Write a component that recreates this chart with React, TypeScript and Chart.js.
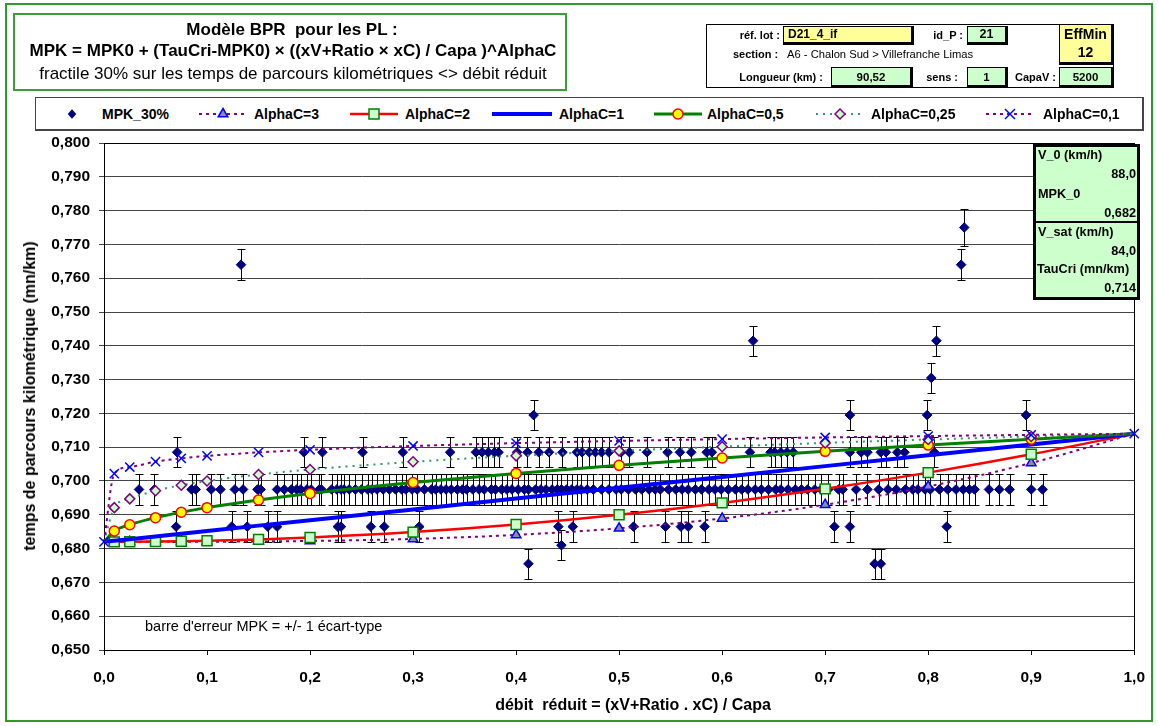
import React, { useEffect, useRef } from "react";
import { Chart, registerables } from "chart.js";

Chart.register(...registerables);

const FONT = '"Liberation Sans", Arial, Helvetica, sans-serif';

// Axis bounds
const X_MIN = 0;
const X_MAX = 1;
const X_STEP = 0.1;
const Y_MIN = 0.65;
const Y_MAX = 0.8;
const Y_STEP = 0.01;

// BPR model curves, evaluated at these reduced flows
const MODEL_X = [0, 0.01, 0.025, 0.05, 0.075, 0.1, 0.15, 0.2, 0.3, 0.4, 0.5, 0.6, 0.7, 0.8, 0.9, 1];
const ALPHA_3 = [0.682, 0.682, 0.682, 0.682, 0.68201, 0.68203, 0.68211, 0.68226, 0.68286, 0.68405, 0.686, 0.68891, 0.69298, 0.69838, 0.70533, 0.714];
const ALPHA_2 = [0.682, 0.682, 0.68202, 0.68208, 0.68218, 0.68232, 0.68272, 0.68328, 0.68488, 0.68712, 0.69, 0.69352, 0.69768, 0.70248, 0.70792, 0.714];
const ALPHA_1 = [0.682, 0.68232, 0.6828, 0.6836, 0.6844, 0.6852, 0.6868, 0.6884, 0.6916, 0.6948, 0.698, 0.7012, 0.7044, 0.7076, 0.7108, 0.714];
const ALPHA_05 = [0.682, 0.6852, 0.68706, 0.68916, 0.69076, 0.69212, 0.69439, 0.69631, 0.69953, 0.70224, 0.70463, 0.70679, 0.70877, 0.71062, 0.71236, 0.714];
const ALPHA_025 = [0.682, 0.69212, 0.69472, 0.69713, 0.69875, 0.69999, 0.70191, 0.7034, 0.70568, 0.70745, 0.70891, 0.71016, 0.71127, 0.71226, 0.71317, 0.714];
const ALPHA_01 = [0.682, 0.70219, 0.70413, 0.70572, 0.7067, 0.70742, 0.70847, 0.70924, 0.71037, 0.7112, 0.71186, 0.7124, 0.71288, 0.71329, 0.71366, 0.714];

// Observed 30% fractile of travel time per km, grouped by level (mn/km)
const MPK_LEVELS = [0.6755, 0.681, 0.6865, 0.6975, 0.7085, 0.7195, 0.7305, 0.7415, 0.764, 0.775];
const MPK_STD = [0.0045, 0.0045, 0.0045, 0.0045, 0.0045, 0.0045, 0.0045, 0.0045, 0.0045, 0.0055];
const MPK_X_06755 = [0.412, 0.748, 0.754];
const MPK_X_06810 = [0.444];
const MPK_X_06865 = [0.07, 0.124, 0.139, 0.159, 0.168, 0.227, 0.23, 0.259, 0.272, 0.306, 0.441, 0.455, 0.514, 0.545, 0.56, 0.567, 0.583, 0.709, 0.724, 0.818];
const MPK_X_06975 = [
  0.034, 0.049, 0.085, 0.089, 0.104, 0.113, 0.127, 0.135, 0.149, 0.152, 0.168, 0.175, 0.182, 0.187, 0.191,
  0.197, 0.201, 0.209, 0.211, 0.221, 0.226, 0.23, 0.233, 0.238, 0.244, 0.25, 0.256, 0.26, 0.265, 0.271,
  0.277, 0.283, 0.289, 0.293, 0.299, 0.304, 0.311, 0.318, 0.322, 0.327, 0.332, 0.337, 0.343, 0.348, 0.352,
  0.358, 0.364, 0.369, 0.376, 0.38, 0.386, 0.391, 0.396, 0.402, 0.408, 0.412, 0.419, 0.424, 0.429, 0.435,
  0.44, 0.444, 0.449, 0.454, 0.459, 0.463, 0.469, 0.475, 0.483, 0.49, 0.497, 0.502, 0.509, 0.516, 0.522,
  0.529, 0.535, 0.54, 0.548, 0.555, 0.561, 0.567, 0.574, 0.58, 0.587, 0.593, 0.599, 0.606, 0.613, 0.619,
  0.625, 0.632, 0.638, 0.645, 0.652, 0.657, 0.664, 0.671, 0.677, 0.683, 0.69, 0.696, 0.703, 0.713, 0.717,
  0.73, 0.741, 0.752, 0.761, 0.769, 0.778, 0.785, 0.79, 0.797, 0.802, 0.811, 0.819, 0.827, 0.834, 0.84,
  0.845, 0.859, 0.869, 0.879, 0.9, 0.911,
];
const MPK_X_07085 = [
  0.071, 0.194, 0.212, 0.251, 0.29, 0.336, 0.361, 0.367, 0.373, 0.379, 0.383, 0.401, 0.411, 0.422, 0.432,
  0.445, 0.459, 0.464, 0.471, 0.477, 0.483, 0.49, 0.502, 0.51, 0.527, 0.547, 0.559, 0.57, 0.585, 0.59,
  0.627, 0.647, 0.651, 0.657, 0.663, 0.669, 0.724, 0.735, 0.741, 0.754, 0.759, 0.77, 0.777, 0.806,
];
const MPK_X_07195 = [0.417, 0.724, 0.799, 0.895];
const MPK_X_07305 = [0.803];
const MPK_X_07415 = [0.63, 0.808];
const MPK_X_0764 = [0.133, 0.832];
const MPK_X_0775 = [0.835];
const MPK_X_BY_LEVEL = [
  MPK_X_06755, MPK_X_06810, MPK_X_06865, MPK_X_06975, MPK_X_07085,
  MPK_X_07195, MPK_X_07305, MPK_X_07415, MPK_X_0764, MPK_X_0775,
];

// Header and parameter box values
const LOT_REF = "D21_4_if";
const ID_P = "21";
const EFF_MIN = "12";
const SECTION = "A6 - Chalon Sud > Villefranche Limas";
const LONGUEUR = "90,52";
const SENS = "1";
const CAPA_V = "5200";
const V0 = "88,0";
const MPK0 = "0,682";
const VSAT = "84,0";
const TAUCRI = "0,714";

const comma = (v: number, d: number) => v.toFixed(d).replace(".", ",");

const mpkPoints = MPK_LEVELS.flatMap((lvl, i) =>
  MPK_X_BY_LEVEL[i].map((x) => ({ x, y: lvl, e: MPK_STD[i] }))
);
const curve = (ys: number[]) => MODEL_X.map((x, i) => ({ x, y: ys[i] }));
const innerMarkers = (r: number) => MODEL_X.map((_, i) => (i === 0 || i === MODEL_X.length - 1 ? 0 : r));

const errorBarsPlugin = {
  id: "errorBars",
  beforeDatasetsDraw(chart: any) {
    const { ctx, chartArea, scales } = chart;
    const xs = scales.x;
    const ys = scales.y;
    ctx.save();
    // plot frame
    ctx.strokeStyle = "#000";
    ctx.lineWidth = 1;
    ctx.strokeRect(
      Math.round(chartArea.left) + 0.5,
      Math.round(chartArea.top) + 0.5,
      Math.round(chartArea.right - chartArea.left),
      Math.round(chartArea.bottom - chartArea.top)
    );
    // +/- 1 standard deviation bars
    const pts = chart.data.datasets[0].data as { x: number; y: number; e: number }[];
    ctx.beginPath();
    for (const p of pts) {
      const px = Math.round(xs.getPixelForValue(p.x)) + 0.5;
      const y1 = Math.round(ys.getPixelForValue(p.y + p.e)) + 0.5;
      const y2 = Math.round(ys.getPixelForValue(p.y - p.e)) + 0.5;
      ctx.moveTo(px, y1);
      ctx.lineTo(px, y2);
      ctx.moveTo(px - 4, y1);
      ctx.lineTo(px + 4, y1);
      ctx.moveTo(px - 4, y2);
      ctx.lineTo(px + 4, y2);
    }
    ctx.stroke();
    ctx.restore();
  },
};

function BprChart() {
  const ref = useRef<HTMLCanvasElement | null>(null);
  useEffect(() => {
    if (!ref.current) return;
    const tickFont = { family: FONT, size: 15.5, weight: "bold" as const };
    const chart = new Chart(ref.current, {
      type: "scatter",
      data: {
        datasets: [
          {
            label: "MPK_30%",
            data: mpkPoints,
            pointStyle: "rectRot",
            pointRadius: 4.8,
            backgroundColor: "#000080",
            borderColor: "#000080",
            borderWidth: 1,
            order: 10,
          },
          {
            label: "AlphaC=3",
            data: curve(ALPHA_3),
            showLine: true,
            cubicInterpolationMode: "monotone",
            borderColor: "#800080",
            borderWidth: 2,
            borderDash: [3, 4],
            pointStyle: "triangle",
            pointRadius: innerMarkers(5.5),
            pointBackgroundColor: "#8c8c9a",
            pointBorderColor: "#0000ff",
            pointBorderWidth: 1.5,
            clip: false,
            order: 6,
          },
          {
            label: "AlphaC=2",
            data: curve(ALPHA_2),
            showLine: true,
            cubicInterpolationMode: "monotone",
            borderColor: "#ff0000",
            borderWidth: 2.5,
            pointStyle: "rect",
            pointRadius: innerMarkers(7),
            pointBackgroundColor: "#ccffcc",
            pointBorderColor: "#008000",
            pointBorderWidth: 1.5,
            clip: false,
            order: 5,
          },
          {
            label: "AlphaC=1",
            data: curve(ALPHA_1),
            showLine: true,
            borderColor: "#0000ff",
            borderWidth: 4,
            pointRadius: 0,
            clip: false,
            order: 4,
          },
          {
            label: "AlphaC=0,5",
            data: curve(ALPHA_05),
            showLine: true,
            cubicInterpolationMode: "monotone",
            borderColor: "#008000",
            borderWidth: 3,
            pointStyle: "circle",
            pointRadius: innerMarkers(5),
            pointBackgroundColor: "#ffff00",
            pointBorderColor: "#ff0000",
            pointBorderWidth: 1.5,
            clip: false,
            order: 3,
          },
          {
            label: "AlphaC=0,25",
            data: curve(ALPHA_025),
            showLine: true,
            cubicInterpolationMode: "monotone",
            borderColor: "#339966",
            borderWidth: 2,
            borderDash: [2, 5],
            pointStyle: "rectRot",
            pointRadius: innerMarkers(5),
            pointBackgroundColor: "#ccffcc",
            pointBorderColor: "#800080",
            pointBorderWidth: 1.5,
            clip: false,
            order: 2,
          },
          {
            label: "AlphaC=0,1",
            data: curve(ALPHA_01),
            showLine: true,
            cubicInterpolationMode: "monotone",
            borderColor: "#800080",
            borderWidth: 2,
            borderDash: [3, 4],
            pointStyle: "crossRot",
            pointRadius: 6.5,
            pointBorderColor: "#0000ff",
            pointBorderWidth: 1.5,
            clip: false,
            order: 1,
          },
        ],
      },
      options: {
        responsive: false,
        animation: false,
        events: [],
        layout: { padding: { left: 0, top: 143, right: 21, bottom: 0 } },
        plugins: { legend: { display: false }, tooltip: { enabled: false }, title: { display: false } },
        scales: {
          x: {
            type: "linear",
            min: X_MIN,
            max: X_MAX,
            ticks: {
              stepSize: X_STEP,
              autoSkip: false,
              maxRotation: 0,
              padding: 13,
              color: "#000",
              font: tickFont,
              callback: (v: any) => comma(Number(v), 1),
            },
            grid: { drawOnChartArea: false, drawTicks: true, tickLength: 5, color: "#000" },
            border: { display: true, color: "#000", width: 1 },
            afterFit: (s: any) => {
              s.height = 76;
            },
          },
          y: {
            type: "linear",
            min: Y_MIN,
            max: Y_MAX,
            ticks: {
              stepSize: Y_STEP,
              autoSkip: false,
              padding: 9,
              color: "#000",
              font: tickFont,
              callback: (v: any) => comma(Number(v), 3),
            },
            grid: { color: "#454545", lineWidth: 1, drawTicks: true, tickLength: 5 },
            border: { display: true, color: "#000", width: 1 },
            afterFit: (s: any) => {
              s.width = 104;
            },
          },
        },
      },
      plugins: [errorBarsPlugin],
    } as any);
    return () => chart.destroy();
  }, []);
  return <canvas ref={ref} width={1158} height={726} style={{ position: "absolute", left: 0, top: 0 }} />;
}

type TextProps = {
  x: number;
  y: number;
  w?: number;
  align?: "left" | "right" | "center";
  size?: number;
  bold?: boolean;
  children: React.ReactNode;
};

// Single line of text, vertically centred on y; x is left edge / right edge / centre depending on align
function T({ x, y, w = 400, align = "left", size = 12, bold = true, children }: TextProps) {
  const left = align === "left" ? x : align === "right" ? x - w : x - w / 2;
  return (
    <div
      style={{
        position: "absolute",
        left,
        top: y - 11,
        width: w,
        height: 22,
        lineHeight: "22px",
        textAlign: align,
        fontSize: size,
        fontWeight: bold ? "bold" : "normal",
        whiteSpace: "pre",
        color: "#000",
      }}
    >
      {children}
    </div>
  );
}

function Cell({ x, y, w, h, bg, children, size = 11 }: any) {
  return (
    <div
      style={{
        position: "absolute",
        left: x,
        top: y,
        width: w,
        height: h,
        boxSizing: "border-box",
        background: bg,
        borderTop: "1px solid #000",
        borderLeft: "1px solid #000",
        borderRight: "3px solid #000",
        borderBottom: "3px solid #000",
        fontSize: size,
        fontWeight: "bold",
        color: "#000",
      }}
    >
      {children}
    </div>
  );
}

function LegendSample({ cx, kind }: { cx: number; kind: string }) {
  const w = 64;
  const c = w / 2;
  const cy = 10;
  let line: React.ReactNode = null;
  let marker: React.ReactNode = null;
  switch (kind) {
    case "mpk":
      marker = <polygon points={`${c},${cy - 4.8} ${c + 4.3},${cy} ${c},${cy + 4.8} ${c - 4.3},${cy}`} fill="#000080" />;
      break;
    case "a3":
      line = <line x1={8} y1={cy} x2={56} y2={cy} stroke="#800080" strokeWidth={2} strokeDasharray="3 4" />;
      marker = (
        <polygon points={`${c},${cy - 5.5} ${c + 4.8},${cy + 2.8} ${c - 4.8},${cy + 2.8}`} fill="#8c8c9a" stroke="#0000ff" strokeWidth={1.5} />
      );
      break;
    case "a2":
      line = <line x1={8} y1={cy} x2={56} y2={cy} stroke="#ff0000" strokeWidth={2.5} />;
      marker = <rect x={c - 5} y={cy - 5} width={10} height={10} fill="#ccffcc" stroke="#008000" strokeWidth={1.5} />;
      break;
    case "a1":
      line = <line x1={2} y1={cy} x2={62} y2={cy} stroke="#0000ff" strokeWidth={4} />;
      break;
    case "a05":
      line = <line x1={8} y1={cy} x2={56} y2={cy} stroke="#008000" strokeWidth={3} />;
      marker = <circle cx={c} cy={cy} r={5} fill="#ffff00" stroke="#ff0000" strokeWidth={1.5} />;
      break;
    case "a025":
      line = <line x1={8} y1={cy} x2={56} y2={cy} stroke="#339966" strokeWidth={2} strokeDasharray="2 5" />;
      marker = (
        <polygon points={`${c},${cy - 5} ${c + 5},${cy} ${c},${cy + 5} ${c - 5},${cy}`} fill="#ccffcc" stroke="#800080" strokeWidth={1.5} />
      );
      break;
    case "a01":
      line = <line x1={8} y1={cy} x2={56} y2={cy} stroke="#800080" strokeWidth={2} strokeDasharray="3 4" />;
      marker = (
        <g stroke="#0000ff" strokeWidth={1.5}>
          <line x1={c - 5} y1={cy - 5} x2={c + 5} y2={cy + 5} />
          <line x1={c - 5} y1={cy + 5} x2={c + 5} y2={cy - 5} />
        </g>
      );
      break;
  }
  return (
    <svg width={w} height={20} style={{ position: "absolute", left: cx - c, top: 103.5 }}>
      {line}
      {marker}
    </svg>
  );
}

const LEGEND_ITEMS = [
  { label: "MPK_30%", kind: "mpk", sample: 72, text: 102 },
  { label: "AlphaC=3", kind: "a3", sample: 223, text: 254 },
  { label: "AlphaC=2", kind: "a2", sample: 374, text: 405 },
  { label: "AlphaC=1", kind: "a1", sample: 522, text: 559 },
  { label: "AlphaC=0,5", kind: "a05", sample: 678, text: 707 },
  { label: "AlphaC=0,25", kind: "a025", sample: 840, text: 871 },
  { label: "AlphaC=0,1", kind: "a01", sample: 1010, text: 1043 },
];

export default function App() {
  return (
    <div
      style={{
        position: "absolute",
        left: 0,
        top: 0,
        width: 1158,
        height: 726,
        overflow: "hidden",
        background: "#fff",
        fontFamily: FONT,
      }}
    >
      {/* outer frame */}
      <div
        style={{
          position: "absolute",
          left: 5,
          top: 3,
          width: 1148,
          height: 719,
          boxSizing: "border-box",
          border: "2px solid #2e9a2e",
        }}
      />

      <BprChart />

      {/* title block */}
      <div
        style={{
          position: "absolute",
          left: 13,
          top: 13,
          width: 554,
          height: 78,
          boxSizing: "border-box",
          border: "2px solid #3c9c3c",
          background: "#fff",
        }}
      />
      <T x={292} y={30} w={554} align="center" size={17}>{"Modèle BPR  pour les PL :"}</T>
      <T x={293} y={51} w={554} align="center" size={17}>
        {"MPK = MPK0 + (TauCri-MPK0) × ((xV+Ratio × xC) / Capa )^AlphaC"}
      </T>
      <T x={293} y={74} w={554} align="center" size={17} bold={false}>
        {"fractile 30% sur les temps de parcours kilométriques <> débit réduit"}
      </T>

      {/* section header table */}
      <div
        style={{
          position: "absolute",
          left: 706,
          top: 24,
          width: 408,
          height: 64,
          boxSizing: "border-box",
          border: "1px solid #000",
          background: "#fff",
        }}
      />
      <T x={780} y={35} w={80} align="right" size={11}>{"réf. lot :"}</T>
      <Cell x={783} y={26} w={131} h={19} bg="#ffff99" size={12}>
        <div style={{ paddingLeft: 4, lineHeight: "15px" }}>{LOT_REF}</div>
      </Cell>
      <T x={963} y={35} w={60} align="right" size={11}>{"id_P :"}</T>
      <Cell x={967} y={26} w={41} h={19} bg="#ccffcc" size={12.5}>
        <div style={{ textAlign: "center", lineHeight: "15px" }}>{ID_P}</div>
      </Cell>
      <Cell x={1059} y={24} w={55} h={41} bg="#ffff99" size={14}>
        <div style={{ textAlign: "center", lineHeight: "18px" }}>EffMin</div>
        <div style={{ textAlign: "center", lineHeight: "18px" }}>{EFF_MIN}</div>
      </Cell>
      <T x={733} y={54} size={11}>{"section :"}</T>
      <T x={787} y={54} size={11.2} bold={false}>{SECTION}</T>
      <T x={823} y={77} w={120} align="right" size={11}>{"Longueur (km) :"}</T>
      <Cell x={831} y={67} w={82} h={21} bg="#ccffcc" size={11.5}>
        <div style={{ textAlign: "center", lineHeight: "18px" }}>{LONGUEUR}</div>
      </Cell>
      <T x={958} y={77} w={60} align="right" size={11}>{"sens :"}</T>
      <Cell x={967} y={67} w={41} h={21} bg="#ccffcc" size={11.5}>
        <div style={{ textAlign: "center", lineHeight: "18px" }}>{SENS}</div>
      </Cell>
      <T x={1056} y={77} w={60} align="right" size={11}>{"CapaV :"}</T>
      <Cell x={1059} y={67} w={55} h={21} bg="#ccffcc" size={11.5}>
        <div style={{ textAlign: "center", lineHeight: "18px" }}>{CAPA_V}</div>
      </Cell>

      {/* legend */}
      <div
        style={{
          position: "absolute",
          left: 35,
          top: 97,
          width: 1109,
          height: 34,
          boxSizing: "border-box",
          border: "1px solid #444",
          borderRightWidth: 2,
          borderBottomWidth: 2,
          background: "#fff",
        }}
      />
      {LEGEND_ITEMS.map((it) => (
        <React.Fragment key={it.label}>
          <LegendSample cx={it.sample} kind={it.kind} />
          <T x={it.text} y={113.5} size={14}>{it.label}</T>
        </React.Fragment>
      ))}

      {/* model parameters */}
      <div
        style={{
          position: "absolute",
          left: 1033,
          top: 144,
          width: 107,
          height: 156,
          boxSizing: "border-box",
          border: "3px solid #000",
          background: "#ccffcc",
        }}
      />
      <div style={{ position: "absolute", left: 1034, top: 221, width: 105, height: 2, background: "#000" }} />
      <T x={1038} y={155} size={12.7}>{"V_0 (km/h)"}</T>
      <T x={1136} y={174} w={90} align="right" size={12.7}>{V0}</T>
      <T x={1038} y={194} size={12.7}>{"MPK_0"}</T>
      <T x={1136} y={213} w={90} align="right" size={12.7}>{MPK0}</T>
      <T x={1038} y={232} size={12.7}>{"V_sat (km/h)"}</T>
      <T x={1136} y={251} w={90} align="right" size={12.7}>{VSAT}</T>
      <T x={1037} y={269} size={12.7}>{"TauCri (mn/km)"}</T>
      <T x={1136} y={288} w={90} align="right" size={12.7}>{TAUCRI}</T>

      <T x={145} y={626} size={14.5} bold={false}>{"barre d'erreur MPK = +/- 1 écart-type"}</T>

      {/* axis titles */}
      <div
        style={{
          position: "absolute",
          left: 30,
          top: 396,
          transform: "translate(-50%, -50%) rotate(-90deg)",
          fontSize: 16,
          fontWeight: "bold",
          whiteSpace: "nowrap",
          color: "#000",
        }}
      >
        temps de parcours kilométrique (mn/km)
      </div>
      <T x={633} y={705} w={500} align="center" size={16}>{"débit  réduit = (xV+Ratio . xC) / Capa"}</T>
    </div>
  );
}
